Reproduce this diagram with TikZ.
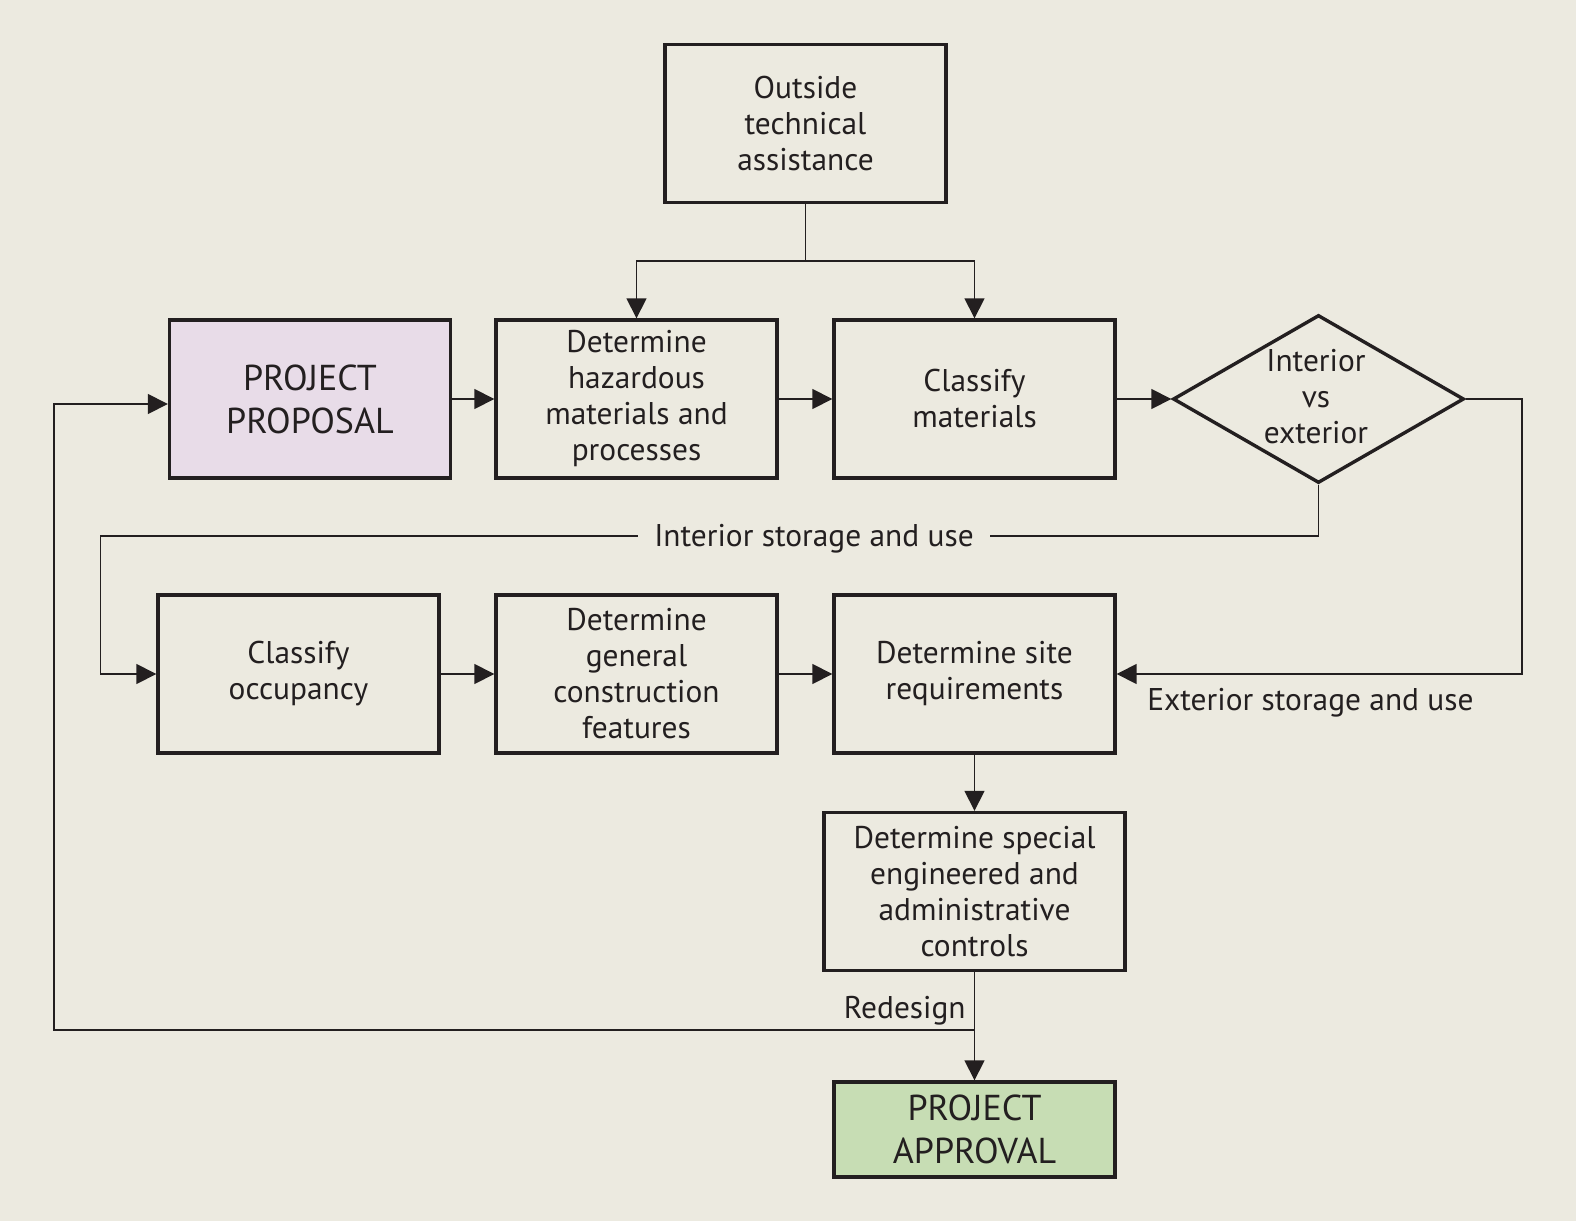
\documentclass[tikz,border=0pt]{standalone}
\usepackage{fontspec}
\setmainfont{PT Sans}
\usetikzlibrary{shapes.geometric,arrows.meta}
\definecolor{bg}{RGB}{236,234,224}
\definecolor{propfill}{RGB}{232,220,232}
\definecolor{apprfill}{RGB}{199,221,180}
\definecolor{ink}{RGB}{35,31,32}
\begin{document}
\begin{tikzpicture}[x=0.5pt,y=-0.5pt,
  every node/.style={font=\fontsize{15.7}{18}\selectfont, text=ink, align=center},
  box/.style={draw=ink, line width=1.7pt, minimum width=140.5pt, minimum height=79pt, inner sep=0pt},
  bigtext/.style={font=\fontsize{18}{21.5}\selectfont},
  conn/.style={draw=ink, line width=0.8pt},
  arr/.style={conn, -{Triangle[length=10pt,width=10pt]}},
  lbl/.style={inner sep=0pt}
]
\fill[bg] (0,0) rectangle (1576,1221);
\useasboundingbox (0,0) rectangle (1576,1221);

\node[box] (out) at (805.5,123.5) {Outside\\technical\\assistance};
\node[box, fill=propfill, bigtext] (prop) at (310,399) {PROJECT\\PROPOSAL};
\node[box] (haz) at (636.5,399) {Determine\\hazardous\\materials and\\processes};
\node[box] (cls) at (974.5,399) {Classify\\materials};
\node[diamond, draw=ink, line width=1.7pt, minimum width=145.5pt, minimum height=84pt, inner sep=0pt] (dia) at (1318.5,399) {};
\node[lbl] (diat) at (1316,397) {Interior\\vs\\exterior};

\node[box] (occ) at (298.5,674) {Classify\\occupancy};
\node[box] (gen) at (636.5,674) {Determine\\general\\construction\\features};
\node[box] (site) at (974.5,674) {Determine site\\requirements};
\node[box, minimum width=150.5pt] (spec) at (974.5,891.5) {Determine special\\engineered and\\administrative\\controls};
\node[box, fill=apprfill, minimum height=47.5pt, bigtext] (appr) at (974.5,1129.5) {PROJECT\\APPROVAL};

% outside technical assistance split
\coordinate (split) at (out.south |- 0,261);
\draw[conn] (out.south) -- (split);
\draw[arr] (split) -| (haz.north);
\draw[arr] (split) -| (cls.north);

% row 1 arrows
\draw[arr] (prop.east) -- (haz.west);
\draw[arr] (haz.east) -- (cls.west);
\draw[arr] (cls.east) -- (dia.west);

% interior path
\node[lbl, fill=bg, inner xsep=8pt, inner ysep=2pt] (intl) at (814,539) {Interior storage and use};
\coordinate (intr) at (dia.south |- 0,536);
\coordinate (intl2) at (100.5,536);
\draw[conn] (dia.south) -- (intr) -- (intl.east |- intr);
\draw[arr] (intl.west |- intr) -- (intl2) |- (occ.west);

% exterior path
\coordinate (extr) at (1522,399);
\draw[arr] (dia.east) -- (extr) |- (site.east);
\node[lbl, anchor=west] (extl) at (1147,703) {Exterior storage and use};

% row 2 arrows
\draw[arr] (occ.east) -- (gen.west);
\draw[arr] (gen.east) -- (site.west);
\draw[arr] (site.south) -- (spec.north);

% redesign
\draw[arr] (spec.south) -- (appr.north);
\coordinate (rd) at (spec.south |- 0,1030);
\coordinate (rdl) at (54,1030);
\draw[arr] (rd) -- (rdl) |- (prop.west |- 0,404);
\node[lbl, anchor=east] (rdt) at (966,1011) {Redesign};
\end{tikzpicture}
\end{document}
